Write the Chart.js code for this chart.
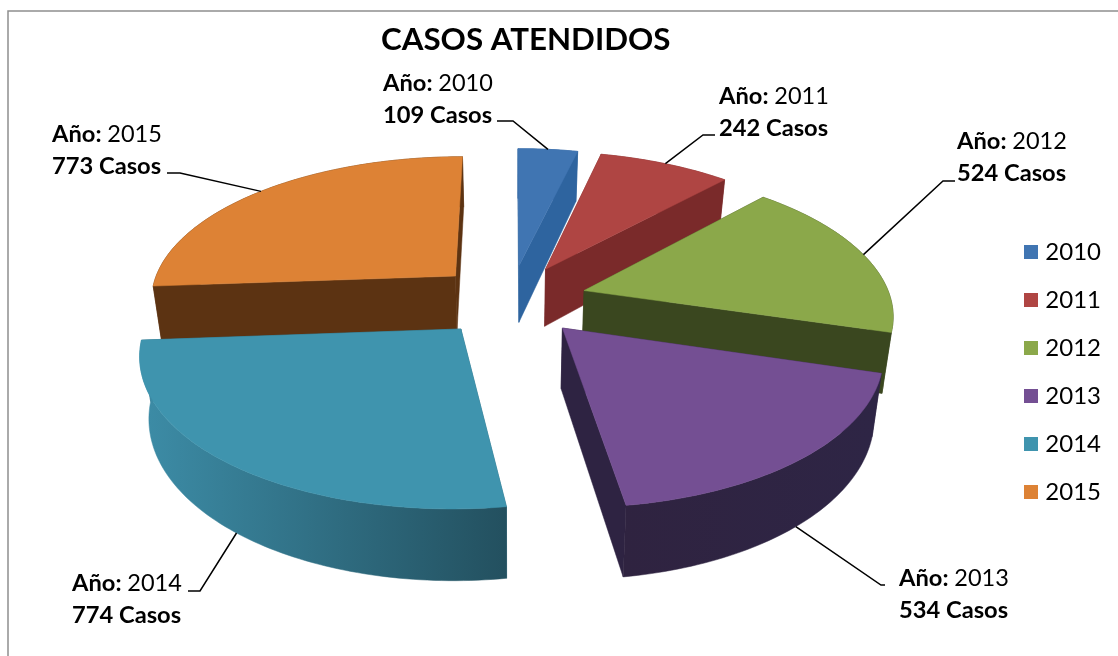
<!DOCTYPE html>
<html lang="es">
<head>
<meta charset="utf-8">
<title>Casos atendidos</title>
<script src="https://cdn.jsdelivr.net/npm/chart.js@4/dist/chart.umd.min.js"></script>
<style>
  html, body { margin: 0; padding: 0; background: #fff; }
  canvas { display: block; }
</style>
</head>
<body>
<canvas id="casosChart" width="1118" height="656"></canvas>
<script>
// Datos del gráfico
const anios = ['2010', '2011', '2012', '2013', '2014', '2015'];
const casos = [109, 242, 524, 534, 774, 773];

// Colores de cada porción
const coloresCara = ['#4075B2', '#AF4543', '#8BA84A', '#744F93', '#3F94AE', '#DD8235'];
const coloresPared = ['#2E649F', '#7A2A2A', '#3A471F', '#2E2342', '#2B6478', '#5C3312'];
const coloresArcoIzq = ['#2E649F', '#7A2A2A', '#3A471F', '#2F2340', '#3C8BA5', '#5C3312'];
const coloresArcoDer = ['#2E649F', '#7A2A2A', '#3A471F', '#2E2545', '#23505F', '#5C3312'];

// Posición de las etiquetas: x del texto, línea base de la primera fila, codo de la guía
const etiquetaX = [383, 719, 957, 899, 72, 52];
const etiquetaY = [91, 104, 149, 586, 591, 142];
const codoX = [513, 703, 943, 881, 200, 180];
const codoY = [121, 135, 181, 585, 591, 173];
const inicioX = [497, 715, 955, 885, 188, 167];

// Proyección en perspectiva de la torta
const CENTRO_X = 510.5;
const CENTRO_Y = 300;
const INCLINACION = 0.468;
const FUGA = 0.1487;
const ALTO = 59;
const ESCALA_BASE = 0.975;

function proyectar(X, Y, radio) {
  const s = 1 / (1 + FUGA * Y);
  return { x: CENTRO_X + radio * X * s, y: CENTRO_Y - radio * INCLINACION * Y * s, s: s };
}

function base(p) {
  return { x: CENTRO_X + (p.x - CENTRO_X) * ESCALA_BASE, y: p.y + ALTO * p.s };
}

function trazar(ctx, puntos, relleno) {
  ctx.beginPath();
  puntos.forEach((p, i) => {
    if (i === 0) ctx.moveTo(p.x, p.y);
    else ctx.lineTo(p.x, p.y);
  });
  ctx.closePath();
  ctx.fillStyle = relleno;
  ctx.fill();
  ctx.strokeStyle = relleno;
  ctx.lineWidth = 0.5;
  ctx.stroke();
}

// Calcula la geometría de una porción a partir del arco de Chart.js
function geometria(arco) {
  const radio = arco.outerRadius;
  const sep = arco.options.offset / radio;
  const ini = arco.startAngle + Math.PI / 2;
  const fin = arco.endAngle + Math.PI / 2;
  const medio = (ini + fin) / 2;
  const ox = sep * Math.sin(medio);
  const oy = sep * Math.cos(medio);
  const borde = [];
  const pasos = Math.ceil((fin - ini) / 0.02);
  for (let i = 0; i <= pasos; i++) {
    const t = ini + (fin - ini) * i / pasos;
    borde.push(proyectar(ox + Math.sin(t), oy + Math.cos(t), radio));
  }
  const ancla = proyectar(ox + Math.sin(medio), oy + Math.cos(medio), radio);
  const atras = oy + Math.cos(medio) > 0;
  return {
    punta: proyectar(ox, oy, radio),
    borde: borde,
    ancla: atras ? ancla : base(ancla),
    orden: Math.cos(medio)
  };
}

function dibujarPorcion(ctx, g, i) {
  const abajo = g.borde.map(base);
  const puntaAbajo = base(g.punta);
  const ultimo = g.borde.length - 1;

  // Paredes rectas
  trazar(ctx, [g.punta, g.borde[0], abajo[0], puntaAbajo], coloresPared[i]);
  trazar(ctx, [g.punta, g.borde[ultimo], abajo[ultimo], puntaAbajo], coloresPared[i]);

  // Pared curva con degradado
  const xs = abajo.map(p => p.x);
  const grad = ctx.createLinearGradient(Math.min(...xs), 0, Math.max(...xs), 0);
  grad.addColorStop(0, coloresArcoIzq[i]);
  grad.addColorStop(1, coloresArcoDer[i]);
  trazar(ctx, g.borde.concat(abajo.slice().reverse()), grad);

  // Cara superior
  trazar(ctx, [g.punta].concat(g.borde), coloresCara[i]);
}

function dibujarEtiqueta(ctx, g, i) {
  ctx.strokeStyle = '#000';
  ctx.lineWidth = 1.5;
  ctx.beginPath();
  ctx.moveTo(inicioX[i], codoY[i]);
  ctx.lineTo(codoX[i], codoY[i]);
  ctx.lineTo(g.ancla.x, g.ancla.y);
  ctx.stroke();

  ctx.fillStyle = '#000';
  ctx.textAlign = 'left';
  ctx.textBaseline = 'alphabetic';
  ctx.font = 'bold 23.7px Lato';
  const rotulo = 'Año:';
  ctx.fillText(rotulo, etiquetaX[i], etiquetaY[i]);
  const ancho = ctx.measureText(rotulo + ' ').width;
  ctx.fillText(casos[i] + ' Casos', etiquetaX[i], etiquetaY[i] + 32);
  ctx.font = '23.5px Lato';
  ctx.fillText(anios[i], etiquetaX[i] + ancho, etiquetaY[i]);
}

// Cuadro de la leyenda, como imagen para acercarlo al texto
function cuadroLeyenda(color) {
  const c = document.createElement('canvas');
  c.width = 14;
  c.height = 14;
  const g = c.getContext('2d');
  g.fillStyle = color;
  g.fillRect(0, 0, 14, 14);
  return c;
}

const torta3d = {
  id: 'torta3d',
  beforeDraw(chart) {
    const ctx = chart.ctx;
    ctx.save();
    ctx.fillStyle = '#fff';
    ctx.fillRect(0, 0, chart.width, chart.height);
    ctx.strokeStyle = '#8E8E8E';
    ctx.lineWidth = 1.5;
    ctx.strokeRect(8, 11, chart.width + 20, chart.height + 20);
    ctx.restore();
  },
  beforeDatasetsDraw(chart) {
    const ctx = chart.ctx;
    const geos = chart.getDatasetMeta(0).data.map(geometria);
    const orden = geos.map((g, i) => i).sort((a, b) => geos[b].orden - geos[a].orden);
    ctx.save();
    orden.forEach(i => dibujarPorcion(ctx, geos[i], i));
    geos.forEach((g, i) => dibujarEtiqueta(ctx, g, i));
    ctx.restore();
    return false;
  }
};

new Chart(document.getElementById('casosChart'), {
  type: 'pie',
  data: {
    labels: anios,
    datasets: [{
      data: casos,
      backgroundColor: coloresCara,
      borderWidth: 0,
      offset: 77
    }]
  },
  options: {
    responsive: false,
    animation: false,
    radius: 307,
    layout: {
      padding: { left: 381, right: 7, top: 12, bottom: 0 }
    },
    plugins: {
      title: {
        display: true,
        text: 'CASOS ATENDIDOS',
        align: 'start',
        color: '#000',
        font: { family: 'Lato', size: 31.3, weight: 'bold' },
        padding: { top: 9, bottom: 29 }
      },
      legend: {
        position: 'right',
        fullSize: false,
        labels: {
          color: '#000',
          font: { family: 'Lato', size: 24 },
          usePointStyle: true,
          boxWidth: 4,
          boxHeight: 14,
          padding: 24,
          generateLabels(chart) {
            const items = Chart.overrides.pie.plugins.legend.labels.generateLabels(chart);
            items.forEach((item, i) => {
              item.pointStyle = cuadroLeyenda(coloresCara[i]);
            });
            return items;
          }
        }
      },
      tooltip: { enabled: false }
    }
  },
  plugins: [torta3d]
});
</script>
</body>
</html>
